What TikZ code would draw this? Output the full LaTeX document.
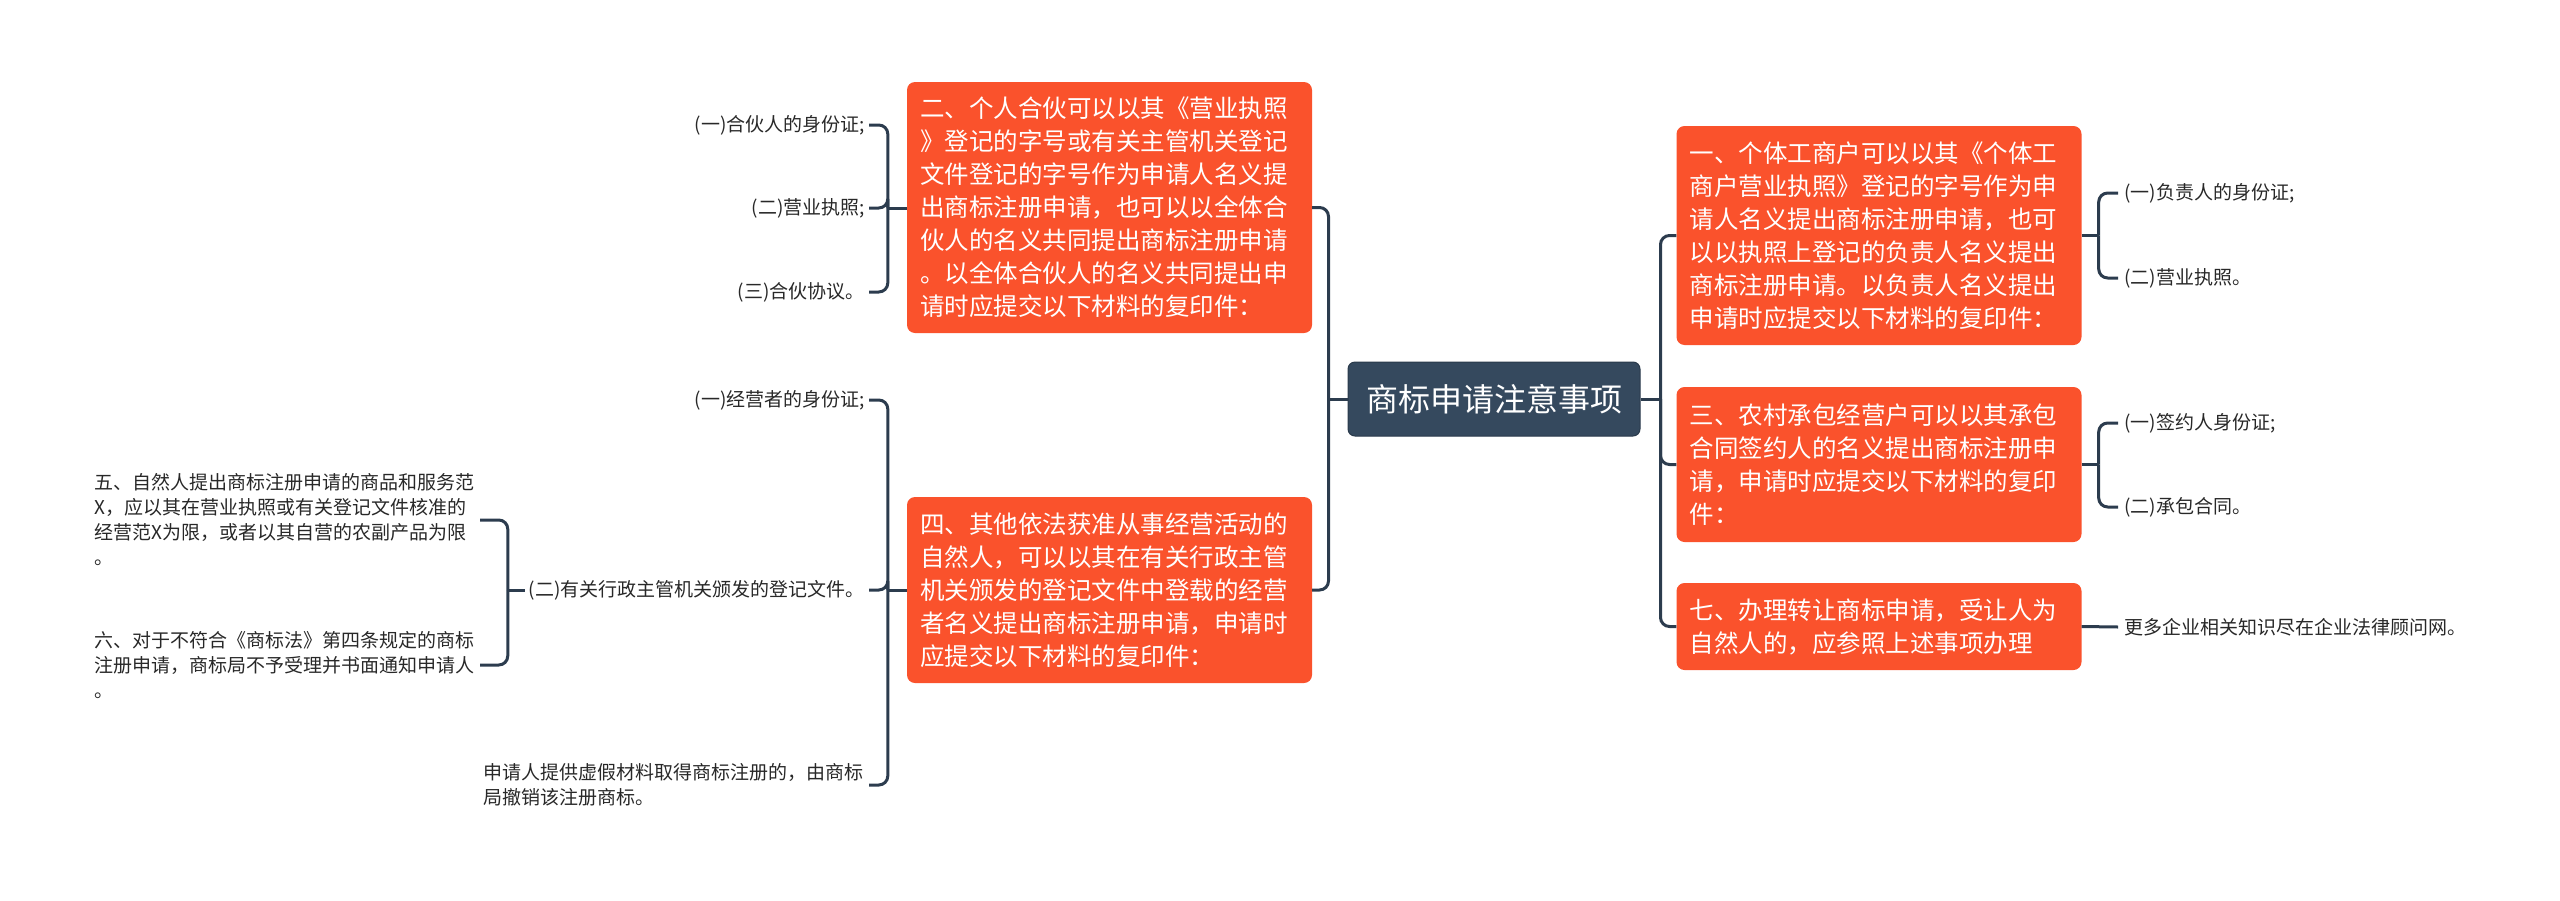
\documentclass[tikz,border=0pt]{standalone}
\usepackage{fontspec}
\setmainfont{Noto Sans CJK SC}
\usetikzlibrary{calc}
\definecolor{orangebox}{RGB}{250,82,44}
\definecolor{darkbox}{RGB}{53,73,94}
\definecolor{connclr}{RGB}{44,60,78}
\definecolor{leaftext}{RGB}{40,40,40}
\tikzset{
  mainbox/.style={fill=darkbox,draw=darkbox!80!black,line width=1pt,rounded corners=7pt,text=white,
    minimum width=292pt,minimum height=74pt,inner sep=0pt,font=\fontsize{32}{38}\selectfont},
  subbox/.style={fill=orangebox,rounded corners=8pt,text=white,text width=379pt,align=left,
    inner xsep=13pt,inner ysep=0pt,font=\fontsize{24.5}{33}\selectfont},
  leafL/.style={anchor=east,text=leaftext,inner xsep=4pt,inner ysep=2pt,font=\fontsize{19}{25}\selectfont},
  leafR/.style={anchor=west,text=leaftext,inner xsep=6pt,inner ysep=2pt,font=\fontsize{19}{25}\selectfont},
  leafW/.style={text width=381pt,align=left},
  conn/.style={draw=connclr,line width=3pt},
  bconn/.style={draw=connclr,line width=3pt,rounded corners=9pt}
}
\begin{document}
\begin{tikzpicture}[x=1pt,y=-1pt]
\useasboundingbox (0,0) rectangle (2560,900);
% central node
\node[mainbox] (c) at (1494,399) {商标申请注意事项};
% left boxes
\node[subbox,minimum height=251pt] (b2) at (1109.5,207.5) {二、个人合伙可以以其《营业执照\\》登记的字号或有关主管机关登记\\文件登记的字号作为申请人名义提\\出商标注册申请，也可以以全体合\\伙人的名义共同提出商标注册申请\\。以全体合伙人的名义共同提出申\\请时应提交以下材料的复印件：};
\node[subbox,minimum height=186pt] (b4) at (1109.5,590) {四、其他依法获准从事经营活动的\\自然人，可以以其在有关行政主管\\机关颁发的登记文件中登载的经营\\者名义提出商标注册申请，申请时\\应提交以下材料的复印件：};
% right boxes
\node[subbox,minimum height=219pt] (b1) at (1879,235.5) {一、个体工商户可以以其《个体工\\商户营业执照》登记的字号作为申\\请人名义提出商标注册申请，也可\\以以执照上登记的负责人名义提出\\商标注册申请。以负责人名义提出\\申请时应提交以下材料的复印件：};
\node[subbox,minimum height=155pt] (b3) at (1879,464.5) {三、农村承包经营户可以以其承包\\合同签约人的名义提出商标注册申\\请，申请时应提交以下材料的复印\\件：};
\node[subbox,minimum height=87pt] (b7) at (1879,626.5) {七、办理转让商标申请，受让人为\\自然人的，应参照上述事项办理};
% leaves of b2
\node[leafL] (l21) at (869,125) {(一)合伙人的身份证;};
\node[leafL] (l22) at (869,208) {(二)营业执照;};
\node[leafL] (l23) at (869,292) {(三)合伙协议。};
% leaves of b4
\node[leafL] (l41) at (869,400) {(一)经营者的身份证;};
\node[leafL] (l42) at (869,590) {(二)有关行政主管机关颁发的登记文件。};
\node[leafL,leafW] (l43) at (869,785) {申请人提供虚假材料取得商标注册的，由商标\\局撤销该注册商标。};
% leaves of l42
\node[leafL,leafW] (l5) at (480,520) {五、自然人提出商标注册申请的商品和服务范\\X，应以其在营业执照或有关登记文件核准的\\经营范X为限，或者以其自营的农副产品为限\\。};
\node[leafL,leafW] (l6) at (480,665) {六、对于不符合《商标法》第四条规定的商标\\注册申请，商标局不予受理并书面通知申请人\\。};
% leaves of right boxes
\node[leafR] (r11) at (2118,193) {(一)负责人的身份证;};
\node[leafR] (r12) at (2118,278) {(二)营业执照。};
\node[leafR] (r31) at (2118,423) {(一)签约人身份证;};
\node[leafR] (r32) at (2118,507) {(二)承包合同。};
\node[leafR] (r71) at (2118,627) {更多企业相关知识尽在企业法律顾问网。};
% spine coordinates
\coordinate (sCL) at ($(c.west)+(-19,0)$);
\coordinate (sCR) at ($(c.east)+(20,0)$);
\coordinate (sB2) at ($(b2.west|-l22)+(-19,0)$);
\coordinate (sB4) at ($(b4.west)+(-19,0)$);
\coordinate (sB1) at ($(b1.east)+(17,0)$);
\coordinate (sB3) at ($(b3.east)+(17,0)$);
\coordinate (sL42) at ($(l42.west)+(-17,0)$);
% connectors centre
\draw[conn] (c.west) -- (sCL);
\draw[bconn] (sCL) |- (b2.east);
\draw[bconn] (sCL) |- (b4.east);
\draw[conn] (c.east) -- (sCR);
\draw[bconn] (sCR) |- (b1.west);
\draw[bconn] (sCR) |- (b3.west);
\draw[bconn] (sCR) |- (b7.west);
% b2 leaves
\draw[conn] (b2.west|-l22) -- (sB2);
\draw[bconn] (sB2) |- (l21.east);
\draw[bconn] (sB2) |- (l22.east);
\draw[bconn] (sB2) |- (l23.east);
% b4 leaves
\draw[conn] (b4.west) -- (sB4);
\draw[bconn] (sB4) |- (l41.east);
\draw[bconn] (sB4) |- (l42.east);
\draw[bconn] (sB4) |- (l43.east);
% l42 leaves
\draw[conn] (l42.west) -- (sL42);
\draw[bconn] (sL42) |- (l5.east);
\draw[bconn] (sL42) |- (l6.east);
% right leaves
\draw[conn] (b1.east) -- (sB1);
\draw[bconn] (sB1) |- (r11.west);
\draw[bconn] (sB1) |- (r12.west);
\draw[conn] (b3.east) -- (sB3);
\draw[bconn] (sB3) |- (r31.west);
\draw[bconn] (sB3) |- (r32.west);
\draw[conn] (b7.east) -- (r71.west);
\end{tikzpicture}
\end{document}
